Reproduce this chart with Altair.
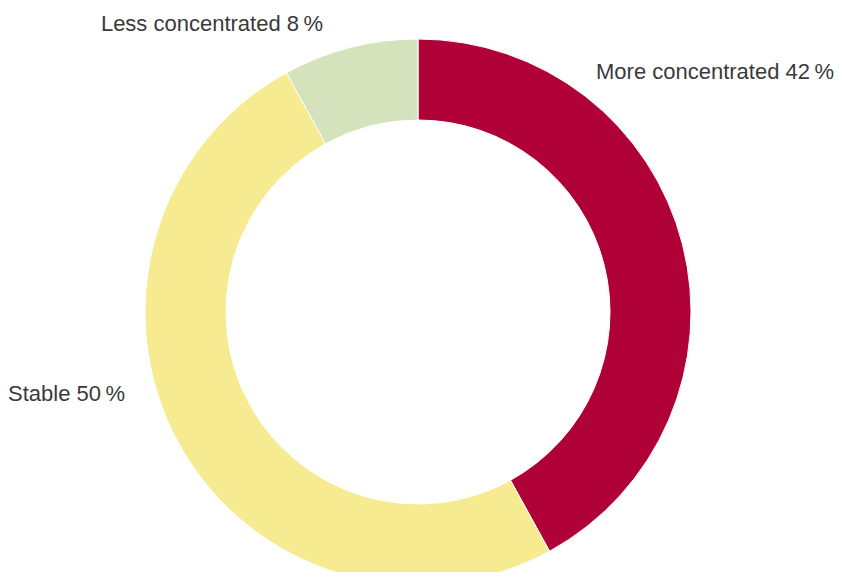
import altair as alt
import pandas as pd

categories = ["More concentrated", "Stable", "Less concentrated"]
shares = [42, 50, 8]
colors = ["#B00038", "#F7EB91", "#D5E3BD"]

df = pd.DataFrame({"category": categories, "share": shares, "rank": list(range(len(categories)))})

cx, cy = 410, 304

donut = alt.Chart(df).mark_arc(
    outerRadius=273, innerRadius=192, stroke="white", strokeWidth=1
).encode(
    theta=alt.Theta("share:Q", stack=True),
    order=alt.Order("rank:Q", sort="ascending"),
    color=alt.Color("category:N", scale=alt.Scale(domain=categories, range=colors), legend=None),
    x=alt.value(cx),
    y=alt.value(cy),
)

def label(i, xpos, ypos, align):
    return alt.Chart(df.iloc[[i]]).mark_text(
        align=align, baseline="alphabetic", font="Liberation Sans", fontSize=22, color="#3a3a3a"
    ).encode(
        text=alt.Text("lbl:N"),
        x=alt.value(xpos),
        y=alt.value(ypos),
    ).transform_calculate(lbl="datum.category + ' ' + datum.share + '\u2009%'")

chart = alt.layer(
    donut,
    label(0, 588, 71, "left"),
    label(2, 315, 23, "right"),
    label(1, 117, 393, "right"),
).properties(
    width=826, height=564, padding=0, autosize=alt.AutoSizeParams(type="none")
).configure_view(stroke=None)

chart.save("out.html", embed_options={"renderer": "svg", "actions": False})
